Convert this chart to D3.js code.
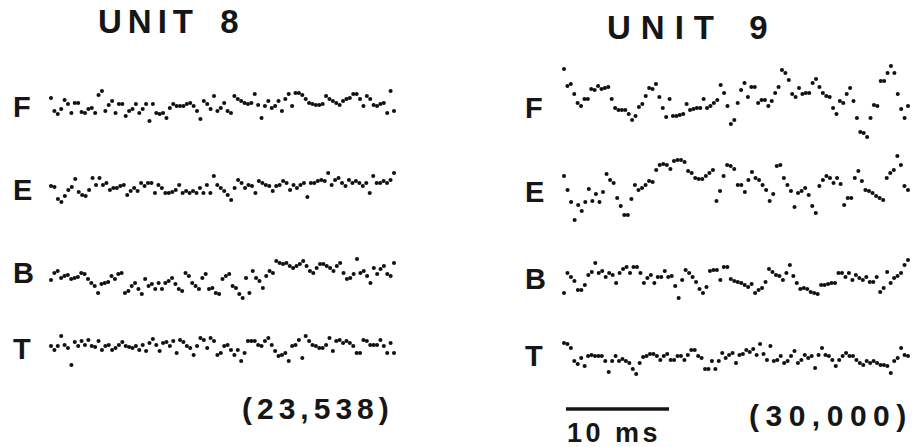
<!DOCTYPE html>
<html>
<head>
<meta charset="utf-8">
<script src="https://cdn.jsdelivr.net/npm/d3@7"></script>
<style>
  body { margin: 0; background: #fff; }
  text { font-family: "Liberation Sans", Arial, sans-serif; fill: #161616; }
</style>
</head>
<body>
<div id="figura"></div>
<script>
// etiquetas
var canales = ["F", "E", "B", "T"];
var unidades = ["UNIT 8", "UNIT 9"];
var conteos = ["(23,538)", "(30,000)"];
var escalaMs = 10;

// valores (amplitud, unidades arbitrarias)
var unit8F = [8,-5,-8,-3,6,2,-7,3,3,-6,-7,-3,-2,-7,11,15,-5,1,5,-7,2,2,-10,-5,-3,2,-7,-3,2,-15,2,-7,-8,-7,-12,-2,2,0,0,0,2,3,0,-5,-13,5,2,-3,10,-5,-2,3,-5,-7,10,7,5,3,2,3,12,1,-12,0,5,-2,0,5,-5,7,12,0,13,13,11,7,3,2,1,1,2,10,7,5,3,1,5,7,8,12,12,7,0,10,7,1,0,2,3,-7,15,-5];
var unit8E = [2,1,-11,-14,-8,-2,1,9,-4,-7,-8,-2,10,3,10,3,5,-2,0,0,2,3,-7,-3,0,-3,5,2,5,5,-5,3,0,-5,-5,-4,-2,3,-5,-3,-5,-3,-5,0,-5,3,-5,12,3,0,-3,-7,-12,0,8,5,0,3,2,-5,7,5,3,2,-3,2,3,7,5,-2,3,0,3,5,-9,5,5,7,8,7,15,3,8,10,5,2,8,5,7,5,2,5,-5,12,5,5,7,5,8,15];
var unit8B = [-4,3,5,-2,0,1,-3,-2,-1,3,2,-3,-7,-10,-17,-8,-7,-6,0,-3,2,3,-17,-15,-10,-7,-13,-18,-3,-10,-8,-13,-7,-13,-7,-5,-2,-8,-13,-15,3,0,-7,-10,-13,-2,2,-13,-12,-17,-18,-3,0,2,-10,-12,-18,-22,-2,-17,5,-2,-5,-12,0,5,3,15,13,12,13,10,8,10,12,15,10,5,3,8,12,12,10,8,5,10,13,3,-3,-2,2,17,3,5,0,-7,8,2,7,10,2,0,13];
var unit8T = [2,-2,2,12,3,0,-17,6,2,7,3,8,2,1,7,-2,2,3,-2,0,3,6,2,1,0,2,-2,3,-3,5,9,3,-3,5,6,2,7,-5,8,6,2,0,-7,2,10,8,0,10,7,-7,-5,2,3,-2,-7,-2,-13,-5,7,7,7,3,2,7,10,3,-3,-8,-7,-5,-13,2,3,8,-10,12,7,3,2,0,0,3,10,-3,7,8,5,7,5,2,-5,-5,8,7,3,3,3,8,2,-5,5,-5];

var unit9F = [32,15,17,7,-2,-5,2,2,12,11,15,12,13,14,2,-7,-9,-9,-9,-13,-19,-15,-6,-3,5,13,12,17,4,-7,-16,2,-15,-15,-14,-13,-3,-9,-8,-7,-7,2,-7,-5,-2,1,16,8,-5,-23,-19,-2,11,18,4,14,14,-2,1,1,-5,0,8,14,31,28,21,7,4,13,7,8,8,18,22,14,8,5,4,-7,-13,0,-2,7,13,0,-17,-31,-32,-36,-17,-4,-5,20,20,28,35,28,7,-8,-17,-5];
var unit9E = [12,-2,-14,-32,-17,-23,-14,-1,-13,-6,-14,-4,14,8,5,-10,-18,-27,-27,-11,3,-2,0,3,7,6,18,23,24,23,19,27,28,28,26,17,15,10,9,9,12,15,18,-13,-3,12,23,22,19,3,3,-4,8,16,10,8,3,-2,-13,-6,22,23,10,3,-3,-19,-5,-3,0,-7,-18,-25,2,8,12,10,5,10,4,-17,-10,-10,10,17,7,-2,-3,-5,-8,-10,-12,10,15,18,32,23,2,-2];
var unit9B = [-13,7,3,-1,-10,-10,-5,5,8,17,7,9,3,7,5,-3,7,11,13,7,13,13,7,-3,2,5,-3,3,3,9,3,4,-6,-18,0,10,7,3,-2,-9,-13,-7,9,10,10,0,13,13,1,-1,-2,-3,-5,-7,-4,-13,-10,-8,-2,11,8,5,4,0,7,15,4,-3,-9,-8,-9,-12,-13,-14,-5,-5,-4,-3,-3,7,7,3,7,0,5,2,0,3,-2,-2,3,-12,-8,8,-3,2,4,7,15,20];
var unit9T = [15,14,10,-3,-6,0,-8,2,3,2,2,2,-3,-14,-3,2,-3,-1,-3,-5,-11,-16,-5,1,2,4,4,2,-2,2,4,-2,-2,2,2,-2,3,8,8,2,0,-11,-11,-3,-11,-3,5,0,3,5,-5,3,4,8,6,9,3,14,4,-2,12,-3,-2,2,-5,-3,2,7,-5,-2,3,0,2,-10,3,10,3,2,-2,-8,-2,2,5,2,2,-2,-5,-7,-3,-5,-3,-5,-7,-7,-8,-15,-3,0,10,3,2];

var width = 919;
var height = 447;

var svg = d3.select("#figura")
			.append("svg")
			.attr("width", width)
			.attr("height", height);

// cada panel: donde empieza y termina el trazo, y la linea base de cada canal
var paneles = [
	{ titulo: unidades[0], tx: 98, ty: 33, esp: 6, conteo: conteos[0], cx: 242, cy: 419, cesp: 5,
	  lx: 13, x0: 51, x1: 394, bases: [106, 188, 276, 348], letras: [107, 190, 273, 349],
	  trazos: [unit8F, unit8E, unit8B, unit8T] },
	{ titulo: unidades[1], tx: 607, ty: 39, esp: 10, conteo: conteos[1], cx: 749, cy: 426, cesp: 6.5,
	  lx: 525, x0: 564, x1: 908, bases: [101, 188, 280, 358], letras: [108, 192, 279, 356],
	  trazos: [unit9F, unit9E, unit9B, unit9T] }
];

// amplitud -> pixeles (hacia arriba positivo)
var y = d3.scaleLinear().domain([-40, 40]).range([40, -40]);

paneles.forEach(function(p){
	svg.append("text")
		.attr("x", p.tx)
		.attr("y", p.ty)
		.style("font-size", "33px")
		.style("font-weight", "bold")
		.style("letter-spacing", p.esp + "px")
		.style("word-spacing", "6px")
		.text(p.titulo);

	p.trazos.forEach(function(serie, k){
		var x = d3.scaleLinear()
				  .domain([0, serie.length - 1])
				  .range([p.x0, p.x1]);

		svg.append("text")
			.attr("x", p.lx)
			.attr("y", p.letras[k] + 10)
			.style("font-size", "29px")
			.style("font-weight", "bold")
			.text(canales[k]);

		var g = svg.append("g")
				   .attr("transform", "translate(0," + p.bases[k] + ")");

		g.selectAll("circle")
			.data(serie)
			.enter()
			.append("circle")
			.attr("cx", function(d, i){ return x(i); })
			.attr("cy", function(d){ return y(d); })
			.attr("r", 2.05)
			.style("fill", "#111");
	});

	svg.append("text")
		.attr("x", p.cx)
		.attr("y", p.cy)
		.style("font-size", "30px")
		.style("font-weight", "bold")
		.style("letter-spacing", p.cesp + "px")
		.text(p.conteo);
});

// barra de escala de 10 ms
var ms = d3.scaleLinear().domain([0, 10]).range([566, 669]);
svg.append("line")
	.attr("x1", ms(0))
	.attr("x2", ms(escalaMs))
	.attr("y1", 409)
	.attr("y2", 409)
	.style("stroke", "#161616")
	.style("stroke-width", 3.5);

svg.append("text")
	.attr("x", ms(0) + 1)
	.attr("y", 442)
	.style("font-size", "27px")
	.style("font-weight", "bold")
	.style("letter-spacing", "3.5px")
	.text(escalaMs + " ms");
</script>
</body>
</html>
